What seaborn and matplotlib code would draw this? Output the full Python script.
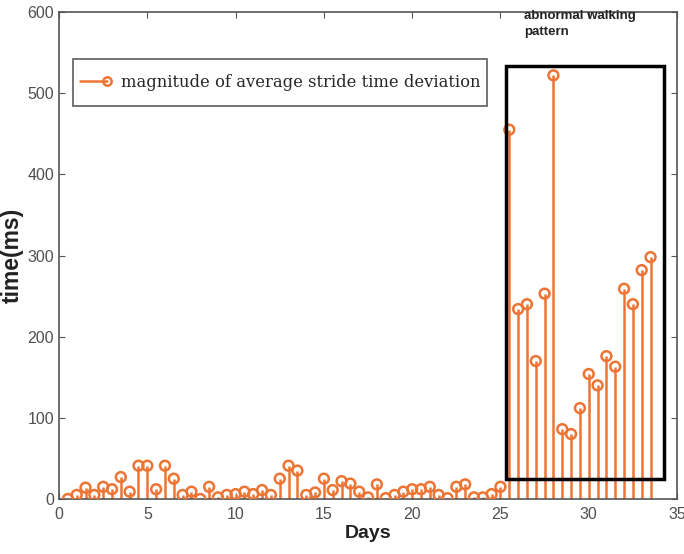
import matplotlib
matplotlib.use("Agg")
import matplotlib.pyplot as plt
import pandas as pd
import seaborn as sns
from matplotlib.legend_handler import HandlerLine2D
from matplotlib.lines import Line2D
from matplotlib.patches import Rectangle

# Data (one point every half day)
days = [i * 0.5 for i in range(1, 68)]
normal_part = [0, 5, 14, 5, 15, 12, 27, 9, 41, 41, 12, 41,
               25, 5, 9, 0, 15, 2, 5, 6, 9, 6, 11, 5,
               25, 41, 35, 5, 8, 25, 11, 22, 19, 9, 2, 18,
               1, 5, 9, 12, 12, 15, 5, 1, 15, 18, 2, 2, 6, 15]
abnormal_part = [455, 234, 240, 170, 253, 522, 86, 80, 112,
                 154, 140, 176, 163, 259, 240, 282, 298]
deviation = normal_part + abnormal_part

df = pd.DataFrame({"day": days, "dev": deviation})

orange = "#EE7434"


class StemHandler(HandlerLine2D):
    # legend entry like MATLAB stem: line with the marker at its right end
    def create_artists(self, legend, orig_handle, xdescent, ydescent, width,
                       height, fontsize, trans):
        artists = super().create_artists(legend, orig_handle, xdescent, ydescent,
                                         width, height, fontsize, trans)
        for a in artists:
            a.set_markevery([len(a.get_xdata()) - 1])
            a.set_ydata([y - 3.5 for y in a.get_ydata()])
        return artists


sns.set_style("white")
plt.rcParams["axes.edgecolor"] = "#555555"
plt.rcParams["font.family"] = ["Liberation Sans", "DejaVu Sans"]

fig = plt.figure(figsize=(6.84, 5.54), dpi=100)
ax = fig.add_axes([0.0863, 0.0993, 0.9035, 0.879])

# stems
ax.vlines(df["day"], 0, df["dev"], color=orange, linewidth=1.8, zorder=2)
sns.scatterplot(data=df, x="day", y="dev", ax=ax, s=50, marker="o",
                facecolors="none", edgecolor=orange, linewidth=1.8, zorder=3)

ax.set_xlim(0, 35)
ax.set_ylim(0, 600)
ax.set_xticks(range(0, 36, 5))
ax.set_yticks(range(0, 601, 100))
ax.tick_params(direction="in", length=4, color="#555555", labelcolor="#505050",
               labelsize=11.5, top=True, right=True, bottom=True, left=True)
ax.tick_params(axis="x", pad=6)
for s in ax.spines.values():
    s.set_linewidth(1.2)

ax.set_xlabel("Days", fontsize=14, fontweight="bold", color="#222222", labelpad=2)
ax.set_ylabel("time(ms)", fontsize=16.5, fontweight="bold", color="#222222", labelpad=3)

# abnormal region box
ax.add_patch(Rectangle((25.3, 25), 8.95, 508, fill=False, edgecolor="black",
                       linewidth=2.5, zorder=4))
ax.text(26.35, 603, "abnormal walking\npattern", fontsize=9.5, fontweight="bold",
        color="#222222", va="top", ha="left", clip_on=False, linespacing=1.45)

handle = Line2D([0], [0], color=orange, linewidth=1.8, marker="o",
                markerfacecolor="none", markeredgewidth=1.8, markersize=6)
leg = ax.legend([handle], ["magnitude of average stride time deviation"],
                handler_map={Line2D: StemHandler(numpoints=1)},
                loc="upper left", bbox_to_anchor=(0.0227, 0.9035), frameon=True,
                fancybox=False, edgecolor="#333333", handlelength=1.7,
                handleheight=2.8, borderpad=0.4, handletextpad=0.85,
                borderaxespad=0,
                prop={"family": "DejaVu Serif", "size": 11.8})
leg.get_frame().set_linewidth(1.2)

fig.savefig("out.png", dpi=100)
